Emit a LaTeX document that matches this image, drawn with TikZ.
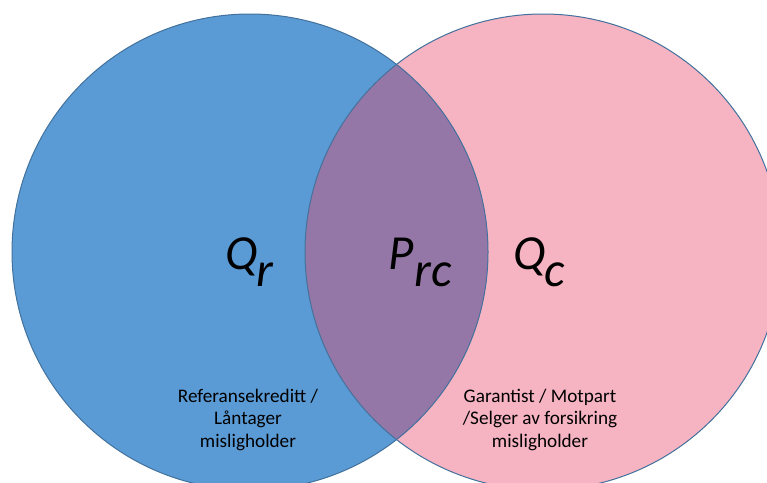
\documentclass[tikz,border=0pt]{standalone}
\usepackage{fontspec}
\setmainfont{Carlito}
\definecolor{cblue}{HTML}{5B9BD5}
\definecolor{cpink}{HTML}{F6B4C3}
\definecolor{cpurple}{HTML}{9577A7}
\definecolor{cedge}{HTML}{41719C}
\begin{document}
\begin{tikzpicture}[x=1pt,y=-1pt,
  big/.style={anchor=base west,inner sep=0pt,font=\fontsize{49}{49}\selectfont\itshape},
  small/.style={align=center,inner sep=0pt,font=\fontsize{19.2}{22.5}\selectfont},
  outline/.style={draw=cedge,line width=1pt}]
\useasboundingbox (0,0) rectangle (767,482);
\clip (0,0) rectangle (767,482);
\coordinate (cl) at (250,252);
\coordinate (cr) at (543,252);
\fill[cblue] (cl) circle (238);
\fill[cpink] (cr) circle (238);
\begin{scope}
  \clip (cl) circle (238);
  \fill[cpurple] (cr) circle (238);
\end{scope}
\draw[outline] (cl) circle (238);
\draw[outline] (cr) circle (238);
\node[big] (qr) at (225,269) {Q\kern-1pt\raisebox{-17pt}{r}};
\node[big] (prc) at (388,269) {P\kern1pt\raisebox{-17pt}{rc}};
\node[big] (qc) at (513,269) {Q\kern-1pt\raisebox{-17pt}{c}};
\node[small,anchor=north] (tl) at (248,388.5) {Referansekreditt /\\Låntager\\misligholder};
\node[small,anchor=north] (tr) at (540,388.5) {Garantist / Motpart\\/Selger av forsikring\\misligholder};
\end{tikzpicture}
\end{document}
